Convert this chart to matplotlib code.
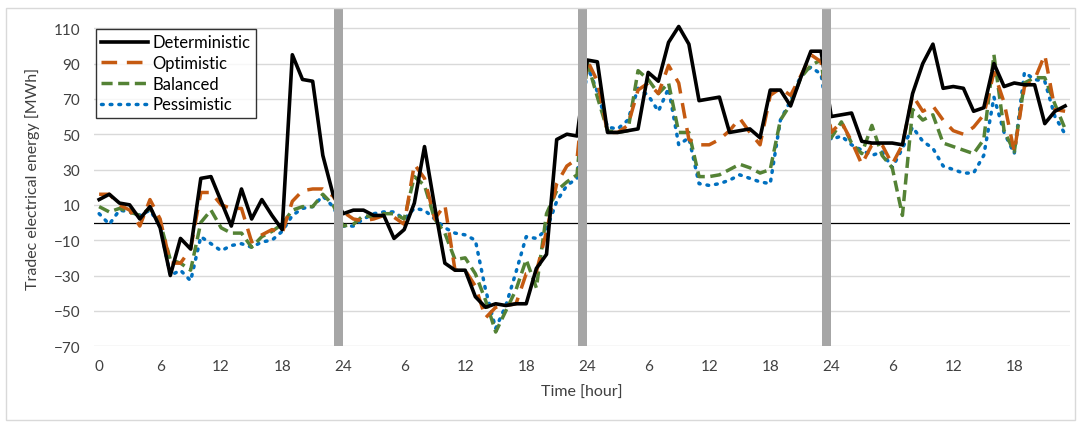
import numpy as np
import matplotlib
matplotlib.use("Agg")
import matplotlib.pyplot as plt
from matplotlib.patches import Rectangle

plt.rcParams['font.family'] = ['Lato', 'DejaVu Sans']

# hourly traded energy [MWh], four consecutive days
deterministic = [13, 16, 11, 10, 2, 9, -3, -30, -9, -15, 25, 26, 12, -2, 19, 2, 13, 4, -4, 95, 81, 80, 38, 16,
                 5, 7, 7, 4, 4, -9, -4, 11, 43, 9, -23, -27, -27, -42, -48, -46, -47, -46, -46, -26, -18, 47, 50, 49,
                 92, 91, 51, 51, 52, 53, 85, 80, 102, 111, 101, 69, 70, 71, 51, 52, 53, 48, 75, 75, 66, 82, 97, 97,
                 60, 61, 62, 46, 45, 45, 45, 44, 73, 90, 101, 76, 77, 76, 63, 65, 90, 77, 79, 78, 78, 56, 63, 66]
optimistic = [16, 16, 10, 7, -2, 13, 2, -23, -23, -15, 17, 17, 10, 8, 8, -11, -7, -4, -6, 12, 18, 19, 19, 15,
              6, 2, 1, 2, 4, 3, -1, 33, 25, 2, 10, -27, -27, -36, -54, -48, -47, -46, -29, -28, -5, 22, 32, 36,
              92, 80, 51, 51, 55, 75, 79, 73, 89, 79, 47, 44, 44, 47, 52, 59, 51, 44, 72, 76, 72, 83, 95, 91,
              51, 57, 46, 33, 44, 44, 33, 44, 72, 63, 66, 58, 52, 50, 54, 61, 85, 68, 40, 77, 81, 95, 64, 63]
balanced = [9, 6, 8, 6, 4, 8, 0, -21, -23, -27, 0, 7, -3, -6, -6, -14, -8, -5, -1, 7, 9, 9, 16, 10,
            -2, -1, 4, 3, 5, 5, 2, 26, 21, 2, -6, -21, -20, -29, -44, -62, -50, -38, -21, -37, 5, 18, 23, 27,
            91, 71, 52, 51, 52, 86, 81, 73, 79, 51, 51, 26, 26, 27, 30, 33, 31, 28, 30, 58, 67, 82, 89, 92,
            48, 57, 45, 39, 55, 38, 31, 4, 64, 58, 61, 45, 43, 41, 39, 47, 95, 52, 40, 79, 82, 82, 67, 53]
pessimistic = [5, -1, 7, 6, 4, 7, -2, -30, -27, -33, -8, -12, -16, -13, -12, -14, -11, -10, -5, 4, 8, 9, 15, 9,
               -2, -2, 2, 5, 6, 6, 2, 8, 7, 2, -3, -6, -7, -10, -38, -60, -47, -28, -8, -9, -4, 12, 21, 25,
               89, 74, 54, 53, 58, 76, 72, 63, 76, 44, 48, 22, 21, 22, 24, 27, 25, 23, 22, 58, 69, 83, 88, 84,
               47, 49, 44, 41, 38, 40, 31, 42, 54, 46, 42, 32, 30, 28, 28, 38, 71, 51, 39, 85, 81, 80, 60, 50]

hours = np.arange(len(deterministic))
n_days = 4
tick_pos = np.arange(0, 96, 6)
tick_lab = [str(h % 24) if (h % 24 or h == 0) else "24" for h in tick_pos]
y_ticks = np.arange(-70, 111, 20)

fig = plt.figure(figsize=(10.81, 4.27), dpi=100)
fig.patches.append(Rectangle((0.006, 0.015), 0.988, 0.965, transform=fig.transFigure,
                             fill=False, edgecolor="#d9d9d9", linewidth=1.0))
ax = fig.add_axes([0.087, 0.187, 0.903, 0.79])

for y in y_ticks:
    ax.axhline(y, color="#d9d9d9", linewidth=1.0, zorder=0)
ax.axhline(0, color="black", linewidth=0.9, zorder=1)

ax.plot(hours, deterministic, color="black", linewidth=2.6, label="Deterministic", zorder=5)
ax.plot(hours, optimistic, color="#c55a11", linewidth=2.5, dashes=(4.5, 2.8), label="Optimistic", zorder=4)
ax.plot(hours, balanced, color="#548235", linewidth=2.5, dashes=(3.2, 1.6), label="Balanced", zorder=3)
ax.plot(hours, pessimistic, color="#0070c0", linewidth=2.5, dashes=(0.5, 2.0),
        dash_capstyle="round", label="Pessimistic", zorder=2)

# day separators
bounds = [24 * d - 0.5 for d in range(1, n_days)]
ax.bar(bounds, 121 + 70, bottom=-70, width=0.9, color="#a6a6a6", zorder=6)

ax.set_xlim(-0.5, 95.5)
ax.set_ylim(-70, 121)
ax.set_yticks(y_ticks)
ax.set_xticks(tick_pos)
ax.set_xticklabels(tick_lab)
ax.tick_params(length=0, labelsize=11, colors="#404040", pad=9)
ax.tick_params(axis="y", pad=10)
for s in ax.spines.values():
    s.set_visible(False)

ax.set_xlabel("Time [hour]", fontsize=11.5, color="#404040", labelpad=9)
ax.set_ylabel("Tradec electrical energy [MWh]", fontsize=11.5, color="#404040", labelpad=10)

leg = ax.legend(loc="upper left", bbox_to_anchor=(0.0, 0.945), fontsize=12, frameon=True,
                fancybox=False, edgecolor="black", handlelength=2.8, borderpad=0.32,
                labelspacing=0.28, handletextpad=0.3, borderaxespad=0.1)
leg.get_frame().set_linewidth(1.0)
leg.set_zorder(10)

fig.savefig("out.png", dpi=100)
